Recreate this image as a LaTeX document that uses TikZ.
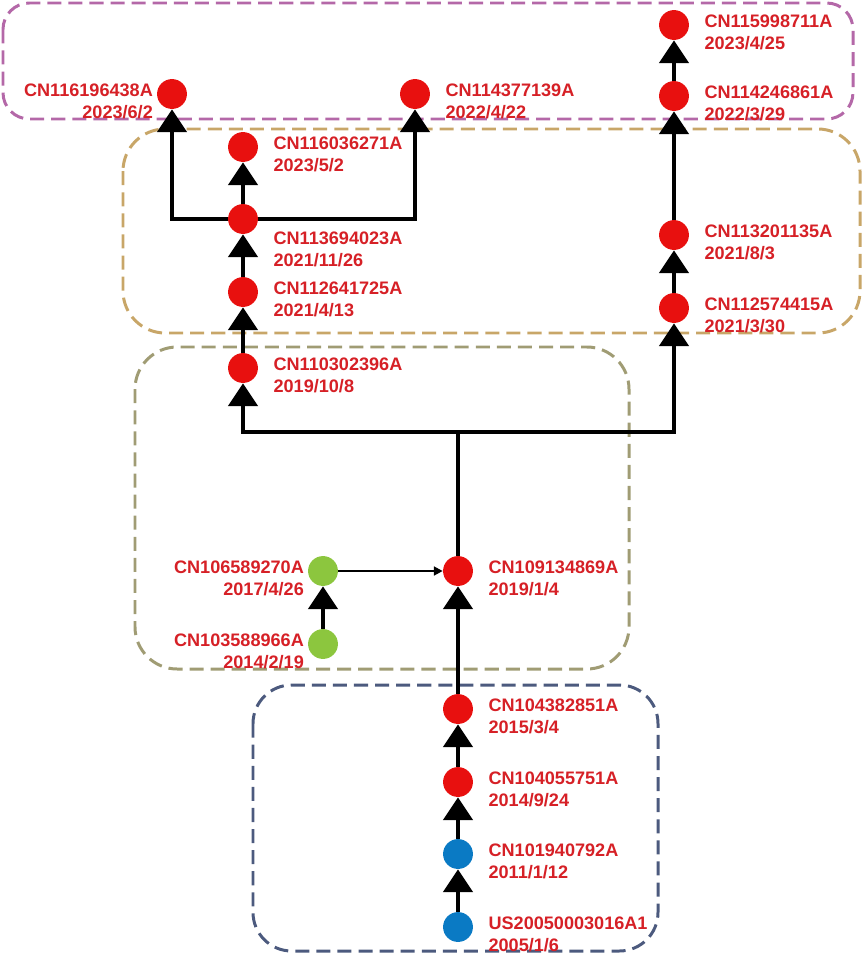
\documentclass[tikz,border=0pt]{standalone}
\usepackage{fontspec}
\setmainfont{Liberation Sans}
\usetikzlibrary{positioning,arrows.meta}
\definecolor{dotred}{RGB}{232,16,15}
\definecolor{dotblue}{RGB}{10,122,196}
\definecolor{dotgreen}{RGB}{140,198,62}
\definecolor{txtred}{RGB}{214,32,38}
\definecolor{boxpurple}{RGB}{180,104,168}
\definecolor{boxtan}{RGB}{200,166,104}
\definecolor{boxolive}{RGB}{160,156,116}
\definecolor{boxnavy}{RGB}{76,90,126}

\begin{document}
\begin{tikzpicture}[x=0.02cm,y=-0.02cm,
   dot/.style={circle,fill=#1,inner sep=0pt,minimum size=17pt},
   lbl/.style={text=txtred,font=\bfseries\fontsize{10.3}{12.5}\selectfont,inner sep=0pt,align=left},
   lblr/.style={lbl,right=8.5pt of #1,yshift=-4pt},
   lbll/.style={lbl,align=right,left=2pt of #1,yshift=-4pt},
   link/.style={line width=2.6pt},
   flow/.style={link,-{Triangle[width=16.5pt,length=13pt]}},
   feed/.style={line width=1.2pt,-{Triangle[width=5pt,length=5pt]}},
   group/.style={draw=#1,dash pattern=on 8pt off 4pt,line width=1.7pt}]
   \useasboundingbox (0,0) rectangle (865,957);
   \draw[group=boxpurple,rounded corners=15pt] (3,3) rectangle (853,119);
   \draw[group=boxtan,rounded corners=24pt] (123,129) rectangle (860,333);
   \draw[group=boxolive,rounded corners=24pt] (135,347) rectangle (629,669);
   \draw[group=boxnavy,rounded corners=22pt] (253,685) rectangle (658,951);
   \node[dot=dotblue] (us3016) at (458,927) {};
   \node[dot=dotblue] (cn0792) at (458,854) {};
   \node[dot=dotred] (cn5751) at (458,782) {};
   \node[dot=dotred] (cn2851) at (458,709) {};
   \node[dot=dotred] (cn4869) at (458,571) {};
   \node[dot=dotgreen] (cn9270) at (323,571) {};
   \node[dot=dotgreen] (cn8966) at (323,644) {};
   \node[dot=dotred] (cn2396) at (243,368) {};
   \node[dot=dotred] (cn1725) at (243,292) {};
   \node[dot=dotred] (cn4023) at (243,219) {};
   \node[dot=dotred] (cn6271) at (243,147) {};
   \node[dot=dotred] (cn6438) at (172,94) {};
   \node[dot=dotred] (cn7139) at (415,94) {};
   \node[dot=dotred] (cn4415) at (674,308) {};
   \node[dot=dotred] (cn1135) at (674,235) {};
   \node[dot=dotred] (cn6861) at (674,96) {};
   \node[dot=dotred] (cn8711) at (674,25) {};
   \coordinate (fork) at (458,432);
   \draw[flow] (us3016) -- (cn0792);
   \draw[flow] (cn0792) -- (cn5751);
   \draw[flow] (cn5751) -- (cn2851);
   \draw[flow] (cn2851) -- (cn4869);
   \draw[flow] (cn8966) -- (cn9270);
   \draw[feed] (cn9270) -- (cn4869);
   \draw[link] (cn4869) -- (fork);
   \draw[flow] (fork) -| (cn2396);
   \draw[flow] (fork) -| (cn4415);
   \draw[flow] (cn2396) -- (cn1725);
   \draw[flow] (cn1725) -- (cn4023);
   \draw[flow] (cn4023) -- (cn6271);
   \draw[flow] (cn4023) -| (cn6438);
   \draw[flow] (cn4023) -| (cn7139);
   \draw[flow] (cn4415) -- (cn1135);
   \draw[flow] (cn1135) -- (cn6861);
   \draw[flow] (cn6861) -- (cn8711);
   \node[lblr=us3016] (t3016) {US20050003016A1\\2005/1/6};
   \node[lblr=cn0792] (t0792) {CN101940792A\\2011/1/12};
   \node[lblr=cn5751] (t5751) {CN104055751A\\2014/9/24};
   \node[lblr=cn2851] (t2851) {CN104382851A\\2015/3/4};
   \node[lblr=cn4869] (t4869) {CN109134869A\\2019/1/4};
   \node[lbll=cn9270] (t9270) {CN106589270A\\2017/4/26};
   \node[lbll=cn8966] (t8966) {CN103588966A\\2014/2/19};
   \node[lblr=cn2396] (t2396) {CN110302396A\\2019/10/8};
   \node[lblr=cn1725] (t1725) {CN112641725A\\2021/4/13};
   \node[lbl,right=8.5pt of cn4023,yshift=-17.5pt] (t4023) {CN113694023A\\2021/11/26};
   \node[lblr=cn6271] (t6271) {CN116036271A\\2023/5/2};
   \node[lbll=cn6438] (t6438) {CN116196438A\\2023/6/2};
   \node[lblr=cn7139] (t7139) {CN114377139A\\2022/4/22};
   \node[lblr=cn4415] (t4415) {CN112574415A\\2021/3/30};
   \node[lblr=cn1135] (t1135) {CN113201135A\\2021/8/3};
   \node[lblr=cn6861] (t6861) {CN114246861A\\2022/3/29};
   \node[lblr=cn8711] (t8711) {CN115998711A\\2023/4/25};
\end{tikzpicture}
\end{document}
